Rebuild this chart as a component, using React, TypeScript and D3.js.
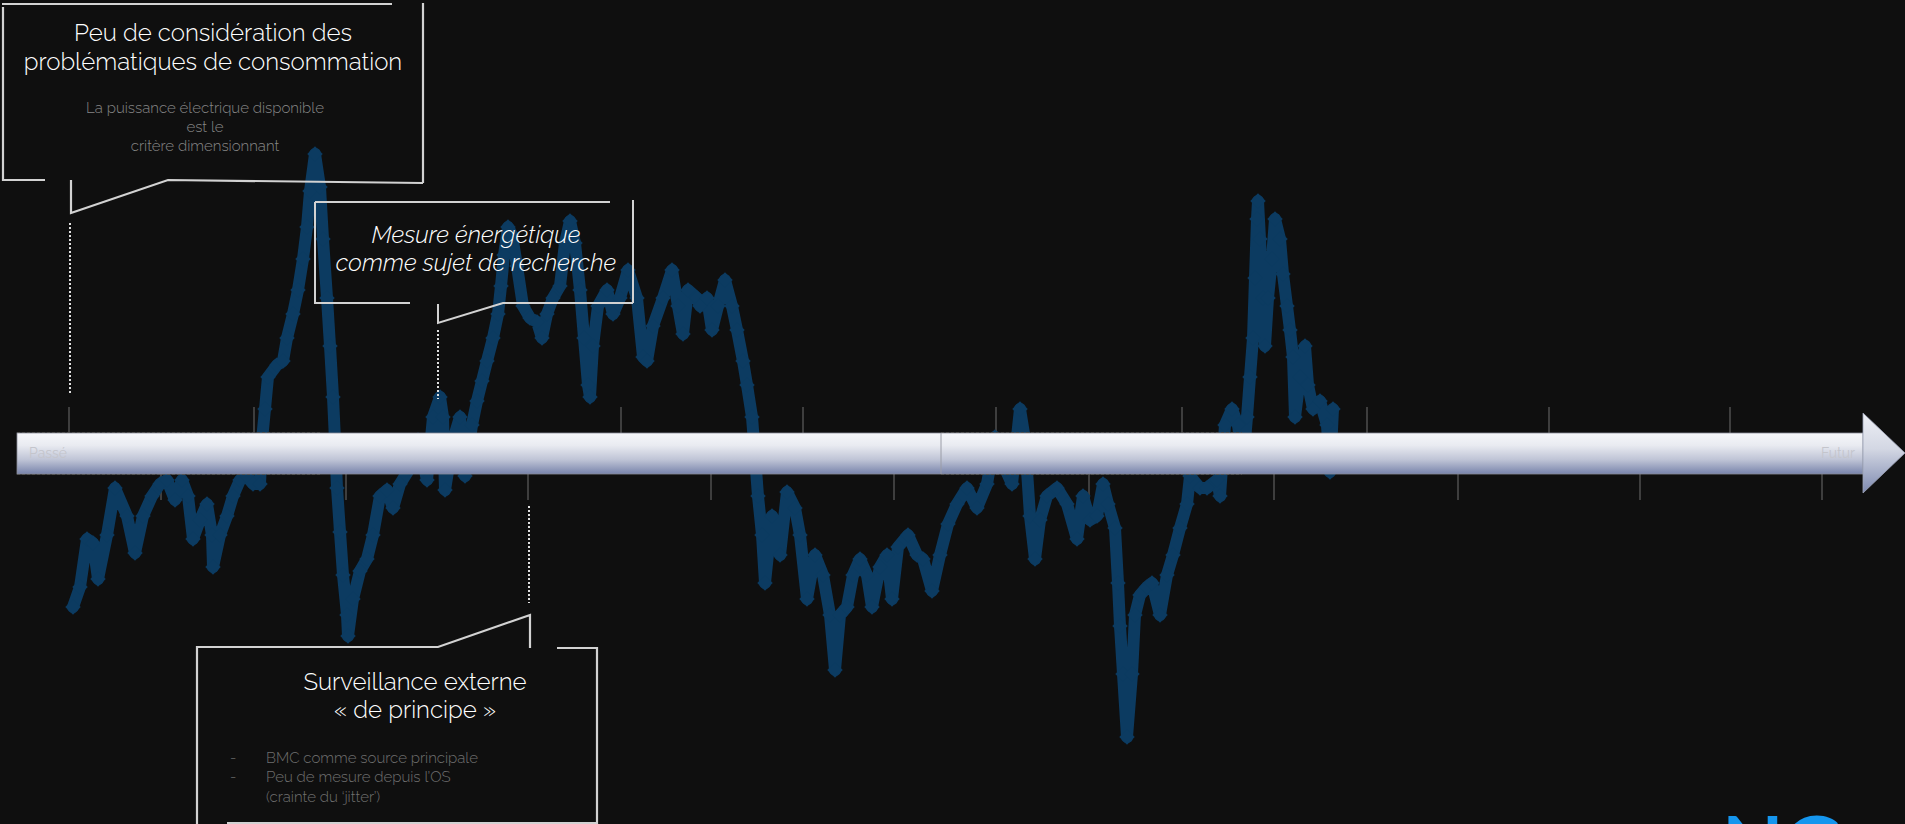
import React from 'react';
import * as d3 from 'd3';

// Series: time (arbitrary units along the timeline) and value (deviation around the axis)
const timeValues = [
  4, 11, 18, 24, 29, 38, 46, 58, 66, 74, 83, 91, 98, 106, 113, 119, 124, 131, 138, 143,
  144, 151, 158, 164, 171, 178, 184, 191, 193, 196, 199, 208, 214, 218, 224, 229, 234, 238, 241, 246,
  251, 254, 258, 261, 264, 266, 268, 271, 274, 278, 279, 284, 291, 298, 304, 311, 318, 324, 331, 341,
  349, 358, 364, 371, 374, 376, 384, 391, 396, 403, 408, 413, 418, 424, 429, 432, 435, 439, 443, 448,
  454, 461, 468, 473, 478, 484, 491, 496, 501, 506, 511, 515, 519, 521, 524, 529, 538, 544, 551, 559,
  568, 574, 578, 584, 594, 603, 609, 614, 619, 628, 631, 638, 643, 649, 656, 663, 668, 674, 678, 683,
  686, 689, 693, 696, 703, 711, 718, 726, 731, 738, 746, 754, 761, 766, 771, 778, 784, 791, 798, 803,
  811, 818, 823, 829, 839, 848, 854, 863, 871, 879, 888, 898, 908, 918, 926, 934, 943, 951, 956, 961,
  966, 971, 978, 988, 998, 1008, 1014, 1021, 1028, 1034, 1039, 1046, 1049, 1051, 1054, 1058, 1063, 1066, 1071, 1078,
  1083, 1091, 1098, 1104, 1111, 1118, 1121, 1131, 1138, 1148, 1151, 1156, 1163, 1169, 1174, 1178, 1181, 1184, 1186, 1188,
  1189, 1191, 1194, 1196, 1199, 1203, 1206, 1211, 1214, 1218, 1221, 1224, 1226, 1231, 1236, 1239, 1244, 1251, 1258, 1261,
  1264,
];
const powerValues = [
  -154, -134, -86, -90, -126, -82, -35, -63, -100, -63, -43, -31, -27, -47, -27, -43, -86, -67, -51, -82,
  -114, -82, -63, -43, -27, -23, -31, -31, 13, 44, 76, 88, 92, 115, 139, 163, 194, 226, 262, 299,
  266, 214, 155, 107, 56, 13, -35, -79, -122, -162, -183, -146, -118, -106, -82, -43, -37, -55, -31, -15,
  13, -27, 36, 56, 36, -37, 13, 36, -23, 28, 52, 72, 92, 115, 139, 167, 198, 226, 218, 187,
  147, 135, 131, 115, 139, 155, 167, 210, 232, 210, 163, 115, 68, 56, 107, 147, 163, 139, 155, 183,
  155, 96, 92, 127, 155, 183, 147, 119, 163, 155, 147, 155, 123, 147, 173, 147, 123, 92, 68, 36,
  -3, -43, -82, -130, -63, -102, -39, -55, -82, -146, -102, -122, -162, -217, -162, -154, -122, -106, -122, -154,
  -114, -102, -146, -94, -82, -102, -106, -138, -102, -71, -51, -35, -55, -31, 16, -11, -31, 44, 13, -63,
  -106, -67, -43, -35, -51, -86, -43, -67, -63, -31, -51, -75, -130, -173, -221, -284, -221, -162, -142, -134,
  -130, -162, -122, -102, -75, -51, -23, -35, -35, -27, -43, 28, 44, 28, -11, 36, 76, 115, 175, 234,
  252, 214, 155, 107, 155, 194, 234, 214, 179, 147, 123, 96, 36, 76, 107, 68, 44, 52, 28, -19,
  44,
];

const ticksAbove = [0, 185, 370, 552, 734, 927, 1113, 1298, 1480, 1661];
const ticksBelow = [92, 277, 459, 642, 825, 1020, 1205, 1389, 1571, 1753];
const eraDivider = [872];
const eventTimes = [1, 369, 460];

const timelineLabels = ['Passé', 'Futur'];
const callout1Title = ['Peu de considération des', 'problématiques de consommation'];
const callout1Body = ['La puissance électrique disponible', 'est le', 'critère dimensionnant'];
const callout2Title = ['Mesure énergétique', 'comme sujet de recherche'];
const callout3Title = ['Surveillance externe', '« de principe »'];
const callout3Bullets = ['BMC comme source principale', 'Peu de mesure depuis l’OS', '(crainte du ‘jitter’)'];
const logoText = 'NG';

const W = 1905;
const H = 824;
const FONT = "Raleway, Lato, 'Open Sans', sans-serif";

export default function App() {
  const x = d3.scaleLinear().domain([0, 1000]).range([69, 1069]);
  const y = d3.scaleLinear().domain([0, 100]).range([453, 353]);

  const pts: [number, number][] = timeValues.map((t, i) => [x(t), y(powerValues[i])]);
  const line = d3.line<[number, number]>().x((d) => d[0]).y((d) => d[1]).curve(d3.curveLinear);
  const diamond = d3.symbol().type(d3.symbolSquare).size(120)();

  const lineColor = '#0c3b61';
  const boxStroke = '#d2d2d2';

  const barTop = 433;
  const barBottom = 474;
  const barLeft = 17;
  const barRight = 1863;

  const ev = eventTimes.map((t) => x(t));

  return (
    <svg
      width={W}
      height={H}
      viewBox={`0 0 ${W} ${H}`}
      style={{ position: 'absolute', left: 0, top: 0, display: 'block' }}
    >
      <defs>
        <linearGradient id="barGrad" x1="0" y1="0" x2="0" y2="1">
          <stop offset="0%" stopColor="#f6f7fa" />
          <stop offset="30%" stopColor="#e9ebf1" />
          <stop offset="65%" stopColor="#bfc4d6" />
          <stop offset="100%" stopColor="#7884ab" />
        </linearGradient>
        <linearGradient id="headGrad" x1="0" y1="0" x2="0" y2="1">
          <stop offset="0%" stopColor="#eef0f5" />
          <stop offset="45%" stopColor="#d3d7e3" />
          <stop offset="100%" stopColor="#7d89b0" />
        </linearGradient>
      </defs>
      <rect x={0} y={0} width={W} height={H} fill="#0f0f0f" />

      {/* ticks */}
      {ticksAbove.map((t, i) => (
        <line key={'ta' + i} x1={x(t)} x2={x(t)} y1={407} y2={barTop} stroke="#6e6e6e" strokeWidth={1} />
      ))}
      {ticksBelow.map((t, i) => (
        <line key={'tb' + i} x1={x(t)} x2={x(t)} y1={barBottom} y2={500} stroke="#6e6e6e" strokeWidth={1} />
      ))}

      {/* series */}
      <path d={line(pts) || ''} fill="none" stroke={lineColor} strokeWidth={12} strokeLinejoin="round" strokeLinecap="round" />
      {pts.map((p, i) => (
        <path key={'m' + i} d={diamond || ''} transform={`translate(${p[0]},${p[1]}) rotate(45)`} fill={lineColor} />
      ))}

      {/* timeline bar */}
      <rect x={barLeft} y={barTop} width={barRight - barLeft} height={barBottom - barTop} fill="url(#barGrad)" stroke="#8a8d99" strokeWidth={0.8} />
      <polygon points={`${barRight},413 ${W},453 ${barRight},493`} fill="url(#headGrad)" stroke="#9da3b8" strokeWidth={0.8} />
      {eraDivider.map((t, i) => (
        <line key={'dv' + i} x1={x(t)} x2={x(t)} y1={barTop} y2={barBottom} stroke="#9a9ca6" strokeWidth={1} />
      ))}
      <line x1={barLeft} x2={320} y1={barTop - 0.5} y2={barTop - 0.5} stroke="#555" strokeDasharray="3 2" strokeWidth={1} />
      <line x1={barLeft} x2={320} y1={barBottom + 0.5} y2={barBottom + 0.5} stroke="#555" strokeDasharray="3 2" strokeWidth={1} />
      <line x1={941} x2={1242} y1={barTop - 0.5} y2={barTop - 0.5} stroke="#555" strokeDasharray="3 2" strokeWidth={1} />
      <line x1={941} x2={1242} y1={barBottom + 0.5} y2={barBottom + 0.5} stroke="#555" strokeDasharray="3 2" strokeWidth={1} />
      <text x={29} y={458} fontFamily={FONT} fontSize={14} fill="#c4c5cc">{timelineLabels[0]}</text>
      <text x={1855} y={458} textAnchor="end" fontFamily={FONT} fontSize={14} fill="#c4c5cc">{timelineLabels[1]}</text>

      {/* dotted event leaders */}
      <line x1={ev[0]} x2={ev[0]} y1={223} y2={395} stroke="#e0e0e0" strokeWidth={2} strokeDasharray="2 2" />
      <line x1={ev[1]} x2={ev[1]} y1={330} y2={399} stroke="#e0e0e0" strokeWidth={2} strokeDasharray="2 2" />
      <line x1={ev[2]} x2={ev[2]} y1={506} y2={603} stroke="#e0e0e0" strokeWidth={2} strokeDasharray="2 2" />

      {/* callout 1 */}
      <g fill="none" stroke={boxStroke} strokeWidth={2.2}>
        <polyline points="2,4 392,4" />
        <polyline points="423,3 423,183" />
        <polyline points="45,180 3,180 3,7" />
        <polyline points={`${ev[0] + 1},180 ${ev[0] + 1},213 168,180 423,183`} />
      </g>
      <g fontFamily={FONT} fontWeight={300} textAnchor="middle">
        <text x={213} y={41} fontSize={24} fill="#ffffff">{callout1Title[0]}</text>
        <text x={213} y={70} fontSize={24} fill="#ffffff">{callout1Title[1]}</text>
        {callout1Body.map((s, i) => (
          <text key={'b1' + i} x={205} y={113 + i * 19} fontSize={15} fill="#868686">{s}</text>
        ))}
      </g>

      {/* callout 2 */}
      <g fill="none" stroke={boxStroke} strokeWidth={2}>
        <polyline points="315,202 610,202" />
        <polyline points="633,200 633,303" />
        <polyline points="410,303 315,303 315,202" />
        <polyline points={`${ev[1]},304 ${ev[1]},323 503,303 633,303`} />
      </g>
      <g fontFamily={FONT} fontWeight={300} fontStyle="italic" textAnchor="middle" fill="#ffffff">
        <text x={476} y={243} fontSize={24}>{callout2Title[0]}</text>
        <text x={476} y={271} fontSize={24}>{callout2Title[1]}</text>
      </g>

      {/* callout 3 */}
      <g fill="none" stroke={boxStroke} strokeWidth={2.2}>
        <polyline points={`197,824 197,647 438,647 ${ev[2] + 1},615 ${ev[2] + 1},648`} />
        <polyline points="557,648 597,648 597,824" />
        <polyline points="227,823 597,823" />
      </g>
      <g fontFamily={FONT} fontWeight={300}>
        <text x={415} y={690} fontSize={24} fill="#ffffff" textAnchor="middle">{callout3Title[0]}</text>
        <text x={415} y={718} fontSize={24} fill="#ffffff" textAnchor="middle">{callout3Title[1]}</text>
        {callout3Bullets.map((s, i) => (
          <g key={'b3' + i}>
            {i < 2 && <text x={230} y={763 + i * 19.3} fontSize={15} fill="#6f6f6f">-</text>}
            <text x={266} y={763 + i * 19.3} fontSize={15} fill="#6f6f6f">{s}</text>
          </g>
        ))}
      </g>

      {/* logo fragment */}
      <text x={1722} y={874} fontFamily="Lato, sans-serif" fontWeight={700} fontSize={80} fill="#1596ee">{logoText}</text>
    </svg>
  );
}
